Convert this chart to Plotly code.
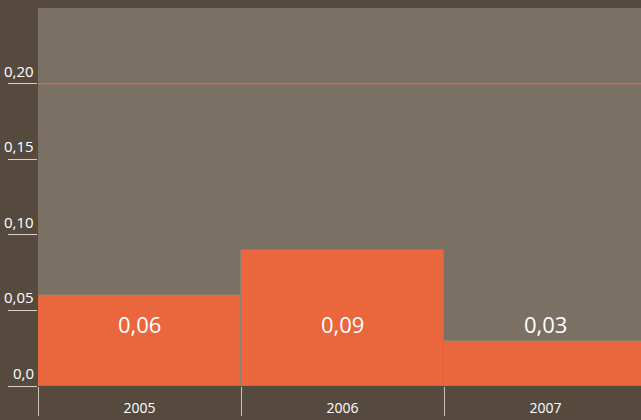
import plotly.graph_objects as go

years = ["2005", "2006", "2007"]
values = [0.06, 0.09, 0.03]
value_labels = ["0,06", "0,09", "0,03"]
y_ticks = [0.0, 0.05, 0.10, 0.15, 0.20]
y_tick_labels = ["0,0", "0,05", "0,10", "0,15", "0,20"]
target = 0.20
label_level = 0.041

BG = "#564a3e"
PLOT_BG = "#7b7064"
BAR = "#ea663c"

pos = list(range(len(years)))
bounds = [p - 0.5 for p in pos] + [pos[-1] + 0.5]

fig = go.Figure()
fig.add_trace(go.Bar(
    x=pos, y=values, width=1,
    marker=dict(color=BAR, line=dict(color="#8a7e72", width=1)),
    hoverinfo="skip",
))

for p, lab in zip(pos, value_labels):
    fig.add_annotation(x=p, y=label_level, text=lab, showarrow=False,
                       font=dict(family="Open Sans", size=22, color="white"),
                       xref="x", yref="y")

for v, lab in zip(y_ticks, y_tick_labels):
    fig.add_annotation(x=0, xref="paper", xanchor="right", xshift=-2,
                       y=v, yref="y", yanchor="bottom", yshift=1,
                       text=lab, showarrow=False,
                       font=dict(family="Open Sans", size=15, color="white"))

fig.add_shape(type="line", xref="paper", x0=0, x1=1, yref="y", y0=target, y1=target,
              line=dict(color="#e8663a", width=1.3))

fig.update_layout(
    width=641, height=420,
    margin=dict(l=38, r=0, t=8, b=34),
    paper_bgcolor=BG, plot_bgcolor=PLOT_BG,
    bargap=0, showlegend=False,
    font=dict(family="Open Sans", color="white"),
    xaxis=dict(range=[bounds[0], bounds[-1] - 0.03], tickvals=pos, ticktext=years, ticks="",
               ticklabelstandoff=12,
               minor=dict(tickvals=bounds, ticks="outside", ticklen=29,
                          tickcolor="#c8c2bb", tickwidth=1, showgrid=False),
               showgrid=False, zeroline=False, showline=False,
               tickfont=dict(size=14, color="white")),
    yaxis=dict(range=[0, 0.25], tickvals=y_ticks, ticks="outside", ticklen=29,
               tickcolor="#d8d2cb", tickwidth=1, showticklabels=False,
               showgrid=False, zeroline=False, showline=False),
)

fig.write_html("out.html", post_script="document.body.style.margin='0';",
               config={"displayModeBar": False})
